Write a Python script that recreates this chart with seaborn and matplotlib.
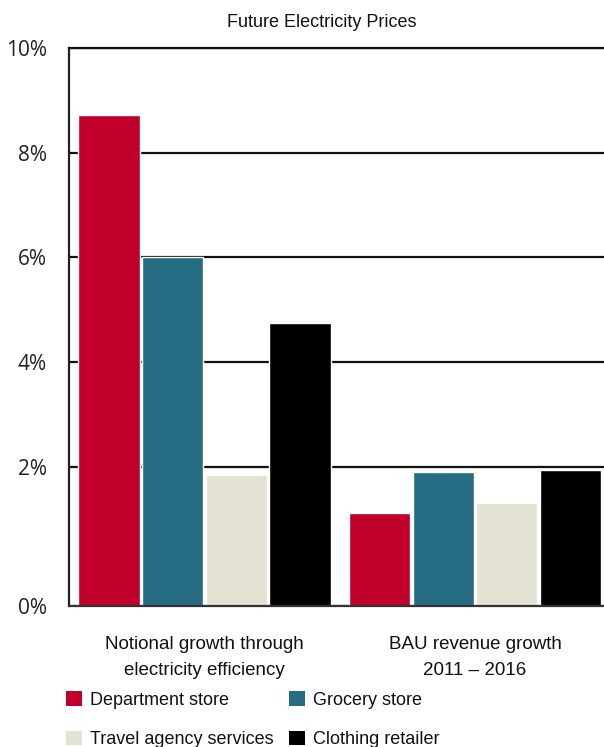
import numpy as np
import pandas as pd
import matplotlib
matplotlib.use("Agg")
import matplotlib.pyplot as plt
from matplotlib.patches import Patch
import seaborn as sns

# ---- data ----
categories = ["Notional growth through\nelectricity efficiency", "BAU revenue growth\n2011 \u2013 2016"]
series = ["Department store", "Grocery store", "Travel agency services", "Clothing retailer"]
department_store = [8.72, 1.33]
grocery_store = [6.00, 1.92]
travel_agency = [1.89, 1.48]
clothing_retailer = [4.74, 1.95]
colors = ["#C0002B", "#266C82", "#E4E2D3", "#000000"]
yticks = [0, 2, 4, 6, 8, 10]
ytick_labels = ["0%", "2%", "4%", "6%", "8%", "10%"]
title = "Future Electricity Prices"

values = [department_store, grocery_store, travel_agency, clothing_retailer]
df = pd.DataFrame(
    [(c, s, v[i]) for s, v in zip(series, values) for i, c in enumerate(categories)],
    columns=["category", "series", "value"],
)

sns.set_theme(style="white")
plt.rcParams["font.family"] = ["Liberation Sans", "DejaVu Sans"]

fig = plt.figure(figsize=(6.04, 7.47), dpi=100)
W, H = 604, 747
ax = fig.add_axes([69 / W, 1 - 605.5 / H, 535 / W, (605.5 - 47.8) / H])

sns.barplot(
    data=df, x="category", y="value", hue="series",
    order=categories, hue_order=series, palette=colors,
    width=0.94, gap=0.035, saturation=1, legend=False, ax=ax,
)

# piecewise y scale (bottom band 0-2% is stretched in the original)
s = 1.323
def fwd(y):
    y = np.asarray(y, dtype=float)
    return np.where(y < 2, y * s, 2 * s + (y - 2))
def inv(u):
    u = np.asarray(u, dtype=float)
    return np.where(u < 2 * s, u / s, u - 2 * s + 2)
ax.set_yscale("function", functions=(fwd, inv))
ax.set_ylim(0, 10)
ax.set_xlim(-0.501, 1.477)

ax.set_yticks(yticks)
ax.set_yticklabels(ytick_labels, family=["Open Sans", "DejaVu Sans"], fontsize=15, color="#222222")
ax.yaxis.set_minor_locator(matplotlib.ticker.NullLocator())
ax.tick_params(axis="y", length=0, pad=16)

ax.set_xticks([0, 1])
ax.set_xticklabels(categories, fontsize=13.5, color="#111111", linespacing=1.65)
ax.set_xticks([-0.5, 0.5], minor=True)
ax.tick_params(axis="x", which="major", length=0, pad=22)
ax.tick_params(axis="x", which="minor", length=6, width=1.6, color="#222222", direction="out")
ax.set_xlabel("")
ax.set_ylabel("")

ax.yaxis.grid(True, color="#111111", linewidth=1.6)
ax.xaxis.grid(False)
ax.set_axisbelow(True)

for side in ["left", "top", "bottom"]:
    ax.spines[side].set_visible(True)
    ax.spines[side].set_linewidth(1.6)
ax.spines["left"].set_color("#222222")
ax.spines["top"].set_color("#111111")
ax.spines["bottom"].set_color("#333333")
ax.spines["right"].set_visible(False)

fig.text(321.7 / W, 1 - 27 / H, title, ha="center", va="baseline", fontsize=13, color="#111111")

handles = [Patch(facecolor=c, edgecolor="none") for c in colors]
order = [0, 2, 1, 3]
fs = 13
fig.legend(
    [handles[i] for i in order], [series[i] for i in order],
    loc="upper left", bbox_to_anchor=(66 / W, 1 - 691 / H), ncol=2, frameon=False,
    fontsize=fs, handlelength=0.88, handleheight=0.88, handletextpad=0.44,
    columnspacing=0.85, labelspacing=1.22, borderpad=0, borderaxespad=0,
    labelcolor="#111111",
)

fig.savefig("out.png", dpi=100)
